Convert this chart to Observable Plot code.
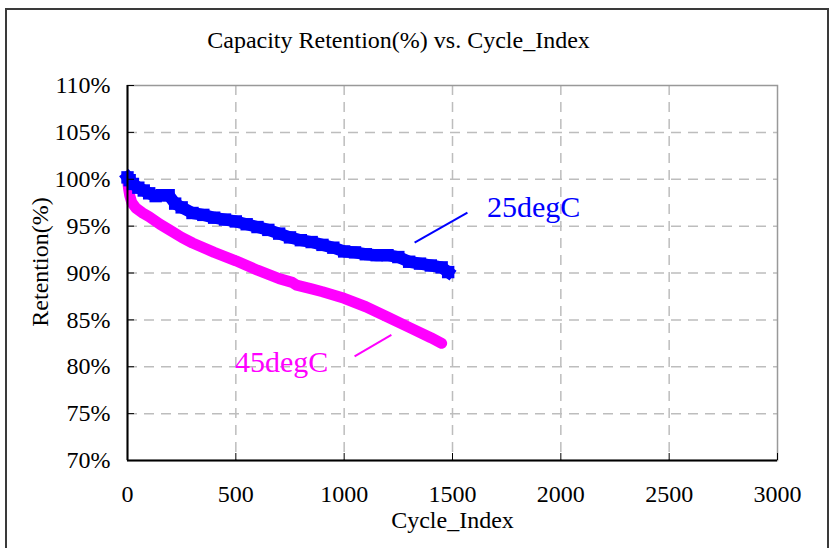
<!DOCTYPE html>
<html>
<head>
<meta charset="utf-8">
<script src="https://cdn.jsdelivr.net/npm/d3@7"></script>
<script src="https://cdn.jsdelivr.net/npm/@observablehq/plot@0.6"></script>
<style>
  html, body { margin: 0; padding: 0; background: #fff; }
  #wrap { position: relative; width: 834px; height: 548px; overflow: hidden; }
  #box { position: absolute; left: 5px; top: 8px; width: 824px; height: 600px; border: 2px solid #3a3a3a; box-sizing: border-box; pointer-events: none; }
</style>
</head>
<body>
<div id="wrap"><div id="box"></div></div>
<script>
// ---- data ----
const cycles25 = [0, 10, 25, 50, 75, 100, 130, 160, 190, 220, 250, 300, 350, 400, 450, 500, 550, 600, 650, 700, 750, 800, 850, 900, 950, 1000, 1050, 1100, 1150, 1200, 1250, 1300, 1350, 1400, 1450, 1480];
const ret25   = [100.2, 99.9, 99.5, 99.1, 98.8, 98.5, 98.2, 98.3, 98.3, 97.4, 97.0, 96.4, 96.2, 95.9, 95.7, 95.5, 95.2, 94.9, 94.6, 94.2, 93.8, 93.5, 93.3, 93.0, 92.7, 92.3, 92.2, 92.0, 91.9, 91.9, 91.7, 91.2, 91.0, 90.8, 90.6, 90.1];

const cycles45 = [0, 5, 10, 20, 40, 70, 100, 150, 200, 250, 300, 400, 500, 600, 700, 760, 780, 850, 900, 1000, 1100, 1200, 1300, 1400, 1450];
const ret45    = [100.0, 99.0, 98.3, 97.5, 96.9, 96.4, 96.0, 95.2, 94.5, 93.8, 93.2, 92.2, 91.3, 90.3, 89.4, 89.0, 88.7, 88.3, 88.0, 87.3, 86.4, 85.3, 84.2, 83.1, 82.5];

const xTicks = [0, 500, 1000, 1500, 2000, 2500, 3000];
const yTicks = [70, 75, 80, 85, 90, 95, 100, 105, 110];

const seriesLabels = ["25degC", "45degC"];
const labelX = [1874, 711];
const labelY = [97.0, 80.45];
const leaderX1 = [1325, 1048];
const leaderY1 = [93.25, 81.1];
const leaderX2 = [1569, 1218];
const leaderY2 = [96.45, 83.4];
const colors = ["#0000ff", "#ff00ff"];

const titleText = "Capacity Retention(%) vs. Cycle_Index";
const xLabel = "Cycle_Index";
const yLabel = "Retention(%)";

// ---- tables ----
const d25 = cycles25.map((c, i) => ({cycle: c, ret: ret25[i]}));
const d45 = cycles45.map((c, i) => ({cycle: c, ret: ret45[i]}));
const labels = seriesLabels.map((s, i) => ({s, x: labelX[i], y: labelY[i], c: colors[i]}));
const leaders = seriesLabels.map((s, i) => ({x1: leaderX1[i], y1: leaderY1[i], x2: leaderX2[i], y2: leaderY2[i], c: colors[i]}));

const chart = Plot.plot({
  width: 834,
  height: 548,
  marginLeft: 127,
  marginRight: 57,
  marginTop: 85,
  marginBottom: 88,
  style: {fontFamily: "'Liberation Serif', 'Times New Roman', serif", fontSize: "24px", color: "#000", background: "transparent"},
  x: {domain: [0, 3000]},
  y: {domain: [70, 110]},
  marks: [
    Plot.gridX(xTicks.slice(1, -1), {stroke: "#bdbdbd", strokeOpacity: 1, strokeDasharray: "10,7", strokeWidth: 1.5}),
    Plot.gridY(yTicks.slice(1, -1), {stroke: "#bdbdbd", strokeOpacity: 1, strokeDasharray: "10,7", strokeWidth: 1.5}),
    Plot.frame({stroke: "#999", strokeWidth: 1.5}),
    // 45degC
    Plot.line(d45, {x: "cycle", y: "ret", stroke: colors[1], strokeWidth: 11, strokeLinecap: "round", strokeLinejoin: "round"}),
    // 25degC
    Plot.line(d25, {x: "cycle", y: "ret", stroke: colors[0], strokeWidth: 12, strokeLinecap: "square", strokeLinejoin: "miter"}),
    Plot.dot(d25, {x: "cycle", y: "ret", symbol: "square", r: 7, fill: colors[0], stroke: "none"}),
    Plot.link(leaders, {x1: "x1", y1: "y1", x2: "x2", y2: "y2", stroke: "c", strokeWidth: 2}),
    Plot.text(labels, {x: "x", y: "y", text: "s", fill: "c", fontSize: 30, textAnchor: "middle", lineAnchor: "middle"}),
    Plot.ruleX([0], {stroke: "#000", strokeWidth: 2}),
    Plot.ruleY([70], {stroke: "#000", strokeWidth: 2}),
    Plot.axisX(xTicks, {tickSize: -7, tickPadding: 31, stroke: "#000", tickFormat: d => String(d), fontSize: 24, label: null}),
    Plot.axisY(yTicks, {tickSize: -7, tickPadding: 24, stroke: "#000", tickFormat: d => d + "%", fontSize: 24, label: null}),
    Plot.text([titleText], {frameAnchor: "top-left", dx: 271, dy: -45, textAnchor: "middle", lineAnchor: "middle", fontSize: 24, fill: "#000"}),
    Plot.text([xLabel], {frameAnchor: "bottom", dy: 60, textAnchor: "middle", lineAnchor: "middle", fontSize: 24, fill: "#000"}),
    Plot.text([yLabel], {frameAnchor: "left", dx: -87, dy: -11, rotate: -90, textAnchor: "middle", lineAnchor: "middle", fontSize: 24, fill: "#000"})
  ]
});
document.getElementById("wrap").insertBefore(chart, document.getElementById("box"));
</script>
</body>
</html>
